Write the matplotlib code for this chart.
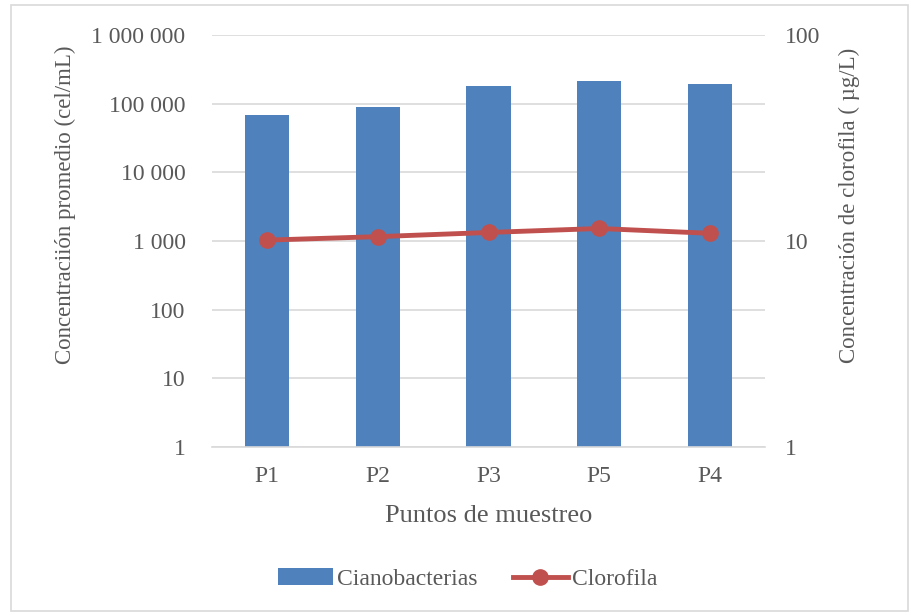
import matplotlib
matplotlib.use('Agg')
import matplotlib.pyplot as plt
from matplotlib.lines import Line2D
from matplotlib.patches import Patch, Rectangle
import matplotlib.ticker as mt

puntos = ['P1', 'P2', 'P3', 'P5', 'P4']
cianobacterias = [67500, 89000, 179000, 214000, 196000]
clorofila = [10.1, 10.5, 11.0, 11.5, 10.9]

grey = '#595959'
blue = '#4f81bd'
red = '#c0504d'

plt.rcParams['font.family'] = ['Liberation Serif', 'DejaVu Serif']
fs = 17

fig = plt.figure(figsize=(9.11, 6.15), dpi=100)
W, H = 911, 615
ax1 = fig.add_axes([212 / W, 1 - 447 / H, (765 - 212) / W, (447 - 35) / H])

x = list(range(len(puntos)))
ax1.bar(x, cianobacterias, width=0.4, color=blue, zorder=2)
ax1.set_yscale('log')
ax1.set_ylim(1, 1e6)
ax1.set_xlim(-0.5, len(puntos) - 0.5)
ax1.yaxis.set_major_locator(mt.LogLocator(base=10, numticks=10))
ax1.yaxis.set_minor_locator(mt.NullLocator())
ax1.yaxis.set_major_formatter(mt.FuncFormatter(lambda v, _: f'{v:,.0f}'.replace(',', ' ')))
ax1.grid(axis='y', color='#d9d9d9', linewidth=1.2, zorder=0)
ax1.set_axisbelow(True)
ax1.set_xticks(x)
ax1.set_xticklabels(puntos)
for s in ax1.spines.values():
    s.set_visible(False)
ax1.spines['bottom'].set_visible(True)
ax1.spines['bottom'].set_color('#d9d9d9')
ax1.spines['bottom'].set_linewidth(1.2)
ax1.tick_params(axis='both', length=0, labelsize=fs, colors=grey)
ax1.tick_params(axis='y', pad=19)
ax1.tick_params(axis='x', pad=14)
ax1.set_ylabel('Concentraciión promedio (cel/mL)', fontsize=16.5, color=grey)
ax1.yaxis.set_label_coords((76 - 212) / 553, (447 - 205) / 412)
ax1.set_xlabel('Puntos de muestreo', fontsize=19, color=grey)
ax1.xaxis.set_label_coords(0.5, -(505 - 447) / 412)

ax2 = ax1.twinx()
ax2.plot(x, clorofila, color=red, linewidth=3.5, marker='o', markersize=11, zorder=3)
ax2.set_yscale('log')
ax2.set_ylim(1, 100)
ax2.yaxis.set_minor_locator(mt.NullLocator())
ax2.yaxis.set_major_formatter(mt.FuncFormatter(lambda v, _: f'{v:.0f}'))
for s in ax2.spines.values():
    s.set_visible(False)
ax2.tick_params(axis='y', length=0, labelsize=fs, colors=grey, pad=14)
ax2.set_ylabel('Concentración de clorofila ( µg/L)', fontsize=16.5, color=grey)
ax2.yaxis.set_label_coords((839 - 212) / 553, (447 - 205) / 412)

handles = [Patch(facecolor=blue, edgecolor='none'),
           Line2D([], [], color=red, linewidth=3.5, marker='o', markersize=11)]
fig.legend(handles, ['Cianobacterias', 'Clorofila'], loc='center',
           bbox_to_anchor=(468 / W, 1 - 579 / H), ncol=2, frameon=False,
           fontsize=fs, labelcolor=grey, handlelength=2.3, handletextpad=0.2,
           columnspacing=1.5)

fig.patches.append(Rectangle((11 / W, 4 / H), 897 / W, 606 / H, transform=fig.transFigure,
                             fill=False, edgecolor='#d9d9d9', linewidth=1.2))

fig.savefig('out.png', dpi=100)
